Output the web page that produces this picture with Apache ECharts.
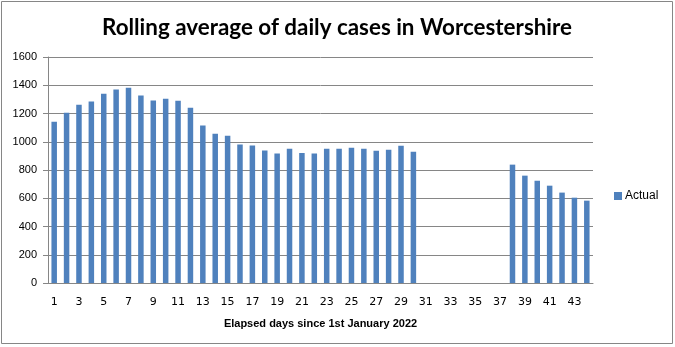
<!DOCTYPE html>
<html><head><meta charset="utf-8">
<script src="https://cdn.jsdelivr.net/npm/echarts@6/dist/echarts.min.js"></script>
<style>html,body{margin:0;padding:0;background:#fff}#c{width:675px;height:347px}</style>
</head><body><div id="c"></div>
<script>
const titleText = 'Rolling average of daily cases in Worcestershire';
const xAxisName = 'Elapsed days since 1st January 2022';
const seriesName = 'Actual';
const days = [];
for (let i = 1; i <= 44; i++) days.push(String(i));
const actual = [1142, 1205, 1262, 1285, 1340, 1370, 1383, 1328, 1292, 1305,
  1290, 1240, 1115, 1057, 1043, 980, 973, 938, 916, 951,
  920, 916, 951, 951, 958, 951, 937, 944, 972, 930,
  null, null, null, null, null, null, null,
  838, 760, 724, 689, 640, 604, 583];
const yTicks = [0, 1600, 200];

const chart = echarts.init(document.getElementById('c'), null, {renderer: 'canvas'});
chart.setOption({
  animation: false,
  backgroundColor: '#fff',
  title: {
    text: titleText, left: 332, top: 12, textAlign: 'center',
    textStyle: {fontFamily: 'Lato', fontWeight: 'bold', fontSize: 22.4, color: '#000'}
  },
  graphic: [{type: 'rect', shape: {x: 1.5, y: 1.5, width: 671, height: 342},
    style: {fill: 'none', stroke: '#868686', lineWidth: 1}}],
  legend: {
    data: [seriesName], left: 609, top: 185, itemWidth: 8, itemHeight: 8, itemGap: 3,
    icon: 'rect',
    textStyle: {fontFamily: 'Liberation Sans', fontSize: 12, color: '#000', padding: [0, 0, 0, -2]}
  },
  grid: {left: 48, right: 82, top: 57, bottom: 64},
  xAxis: {
    type: 'category', data: days, boundaryGap: true,
    name: xAxisName, nameLocation: 'middle', nameGap: 35,
    nameTextStyle: {fontFamily: 'Liberation Sans', fontWeight: 'bold', fontSize: 11, color: '#000'},
    axisLine: {lineStyle: {color: '#868686'}},
    axisTick: {interval: 0, length: 5, lineStyle: {color: '#868686'}},
    axisLabel: {interval: 1, margin: 14, fontFamily: 'DejaVu Sans', fontSize: 11, color: '#000'}
  },
  yAxis: {
    type: 'value', min: yTicks[0], max: yTicks[1], interval: yTicks[2],
    axisLine: {show: true, lineStyle: {color: '#868686'}},
    axisTick: {show: true, length: 5, lineStyle: {color: '#868686'}},
    axisLabel: {margin: 11, fontFamily: 'Liberation Sans', fontSize: 11, color: '#000',
      formatter: function (v) { return String(v); }},
    splitLine: {lineStyle: {color: '#868686'}}
  },
  series: [{
    name: seriesName, type: 'bar', data: actual, barWidth: 5.5,
    itemStyle: {color: '#4F81BD'}
  }]
});
</script></body></html>
